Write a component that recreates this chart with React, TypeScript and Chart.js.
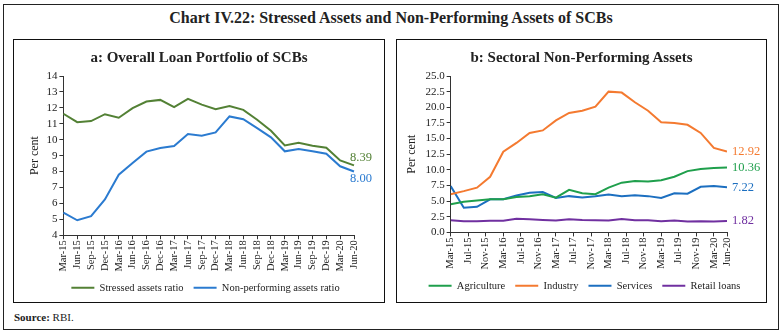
import React, { useEffect, useRef } from 'react';
import { Chart, registerables } from 'chart.js';

Chart.register(...registerables);

// ---------- Data ----------
const quarterLabels = [
  'Mar-15', 'Jun-15', 'Sep-15', 'Dec-15', 'Mar-16', 'Jun-16', 'Sep-16', 'Dec-16',
  'Mar-17', 'Jun-17', 'Sep-17', 'Dec-17', 'Mar-18', 'Jun-18', 'Sep-18', 'Dec-18',
  'Mar-19', 'Jun-19', 'Sep-19', 'Dec-19', 'Mar-20', 'Jun-20',
];

const stressedAssetsRatio = [
  11.63, 11.1, 11.17, 11.6, 11.38, 11.98, 12.4, 12.5, 12.04, 12.56, 12.2, 11.92,
  12.12, 11.87, 11.25, 10.56, 9.64, 9.81, 9.62, 9.5, 8.7, 8.39,
];
const npaRatio = [
  5.42, 4.94, 5.2, 6.25, 7.8, 8.54, 9.25, 9.48, 9.6, 10.35, 10.25, 10.46,
  11.46, 11.29, 10.73, 10.15, 9.27, 9.42, 9.27, 9.12, 8.33, 8.0,
];

const agriculture = [
  4.5, 4.9, 5.1, 5.3, 5.3, 5.65, 5.8, 6.1, 5.55, 6.8, 6.25, 6.1,
  7.15, 7.95, 8.2, 8.15, 8.35, 8.9, 9.8, 10.15, 10.3, 10.36,
];
const industry = [
  6.1, 6.6, 7.15, 8.9, 12.9, 14.3, 15.9, 16.3, 17.9, 19.1, 19.45, 20.1,
  22.5, 22.35, 20.8, 19.45, 17.6, 17.5, 17.2, 15.9, 13.5, 12.92,
];
const services = [
  7.4, 3.95, 4.1, 5.3, 5.3, 5.9, 6.35, 6.45, 5.5, 5.8, 5.6, 5.8,
  6.05, 5.8, 5.95, 5.8, 5.5, 6.25, 6.2, 7.3, 7.4, 7.22,
];
const retailLoans = [
  1.95, 1.8, 1.8, 1.85, 1.85, 2.2, 2.1, 2.0, 1.9, 2.1, 2.0, 1.95,
  1.9, 2.15, 1.95, 1.95, 1.8, 1.9, 1.75, 1.8, 1.75, 1.82,
];

const rightTickLabels = [
  'Mar-15', 'Jul-15', 'Nov-15', 'Mar-16', 'Jul-16', 'Nov-16', 'Mar-17', 'Jul-17',
  'Nov-17', 'Mar-18', 'Jul-18', 'Nov-18', 'Mar-19', 'Jul-19', 'Nov-19', 'Mar-20', 'Jun-20',
];

// ---------- Helpers ----------
const MONTHS = ['Jan', 'Feb', 'Mar', 'Apr', 'May', 'Jun', 'Jul', 'Aug', 'Sep', 'Oct', 'Nov', 'Dec'];
const monthIndex = (label: string) => {
  const m = MONTHS.indexOf(label.slice(0, 3));
  const y = parseInt(label.slice(4), 10);
  return (y - 15) * 12 + (m - 2);
};
const toPoints = (vals: number[]) => vals.map((v, i) => ({ x: monthIndex(quarterLabels[i]), y: v }));

const FONT = '"Liberation Serif", "DejaVu Serif", serif';
const AXIS = '#333';
const TEXT = '#222';

const endLabelPlugin = (dx: number, dys: number[]) => ({
  id: 'endLabels',
  afterDatasetsDraw(chart: any) {
    const ctx = chart.ctx;
    ctx.save();
    ctx.font = `12.5px ${FONT}`;
    ctx.textAlign = 'left';
    ctx.textBaseline = 'middle';
    chart.data.datasets.forEach((ds: any, i: number) => {
      const meta = chart.getDatasetMeta(i);
      const pt = meta.data[meta.data.length - 1];
      const raw = ds.data[ds.data.length - 1];
      const v = typeof raw === 'number' ? raw : raw.y;
      ctx.fillStyle = ds.borderColor;
      ctx.fillText(v.toFixed(2), pt.x + dx, pt.y + (dys[i] || 0));
    });
    ctx.restore();
  },
});

const legendOpts = {
  position: 'bottom' as const,
  labels: {
    usePointStyle: true,
    pointStyle: 'line',
    pointStyleWidth: 23,
    boxHeight: 10,
    padding: 10,
    color: TEXT,
    font: { family: FONT, size: 10.5 },
  },
};

const xGrid = { drawOnChartArea: false, drawTicks: true, tickLength: 4, color: AXIS };

// invisible right-side axis that reserves room for the end-value labels
const spacerAxis = (w: number) => ({
  position: 'right',
  display: true,
  grid: { display: false },
  border: { display: false },
  ticks: { display: false },
  afterFit: (scale: any) => { scale.width = w; },
});

function LeftChart() {
  const ref = useRef<HTMLCanvasElement>(null);
  useEffect(() => {
    const chart = new Chart(ref.current as HTMLCanvasElement, {
      type: 'line',
      data: {
        labels: quarterLabels,
        datasets: [
          { label: 'Stressed assets ratio', data: stressedAssetsRatio, borderColor: '#538135', backgroundColor: '#538135', borderWidth: 2, pointRadius: 0, tension: 0 },
          { label: 'Non-performing assets ratio', data: npaRatio, borderColor: '#2b7bd0', backgroundColor: '#2b7bd0', borderWidth: 2, pointRadius: 0, tension: 0 },
        ],
      },
      options: {
        responsive: false,
        animation: false,
        layout: { padding: { left: 14, right: 0, top: 36, bottom: -2 } },
        plugins: {
          title: { display: false },
          legend: legendOpts,
          tooltip: { enabled: false },
        },
        scales: {
          x: {
            type: 'category',
            grid: xGrid,
            border: { color: AXIS, width: 1 },
            ticks: { color: TEXT, font: { family: FONT, size: 10.5 }, maxRotation: 90, minRotation: 90, autoSkip: false, padding: 1 },
          },
          y: {
            min: 4, max: 14,
            grid: xGrid,
            border: { color: AXIS, width: 1 },
            ticks: { stepSize: 1, autoSkip: false, color: TEXT, font: { family: FONT, size: 11 }, padding: 2 },
            title: { display: true, text: 'Per cent', color: TEXT, font: { family: FONT, size: 12 }, padding: { top: 0, bottom: 2 } },
          },
          pad: spacerAxis(29),
        },
      } as any,
      plugins: [endLabelPlugin(-4, [-8, 7])],
    });
    return () => chart.destroy();
  }, []);
  return <canvas ref={ref} width={369} height={261} style={{ display: 'block' }} />;
}

function RightChart() {
  const ref = useRef<HTMLCanvasElement>(null);
  useEffect(() => {
    const tickValues = rightTickLabels.map(monthIndex);
    const chart = new Chart(ref.current as HTMLCanvasElement, {
      type: 'line',
      data: {
        datasets: [
          { label: 'Agriculture', data: toPoints(agriculture), borderColor: '#1f9f4c', backgroundColor: '#1f9f4c', borderWidth: 2, pointRadius: 0 },
          { label: 'Industry', data: toPoints(industry), borderColor: '#f47a30', backgroundColor: '#f47a30', borderWidth: 2, pointRadius: 0 },
          { label: 'Services', data: toPoints(services), borderColor: '#1c6fc0', backgroundColor: '#1c6fc0', borderWidth: 2, pointRadius: 0 },
          { label: 'Retail loans', data: toPoints(retailLoans), borderColor: '#7030a0', backgroundColor: '#7030a0', borderWidth: 2, pointRadius: 0 },
        ],
      },
      options: {
        responsive: false,
        animation: false,
        layout: { padding: { left: 8, right: 1, top: 36, bottom: 0 } },
        plugins: {
          title: { display: false },
          legend: legendOpts,
          tooltip: { enabled: false },
        },
        scales: {
          x: {
            type: 'linear',
            min: monthIndex(quarterLabels[0]),
            max: monthIndex(quarterLabels[quarterLabels.length - 1]),
            afterBuildTicks: (scale: any) => {
              scale.ticks = tickValues.map((v) => ({ value: v }));
            },
            grid: xGrid,
            border: { color: AXIS, width: 1 },
            ticks: {
              color: TEXT, font: { family: FONT, size: 10.5 }, maxRotation: 90, minRotation: 90, autoSkip: false, padding: 1,
              callback: (value: number) => {
                const i = tickValues.indexOf(value);
                return i >= 0 ? rightTickLabels[i] : '';
              },
            },
          },
          y: {
            min: 0, max: 25,
            grid: xGrid,
            border: { color: AXIS, width: 1 },
            ticks: { stepSize: 2.5, autoSkip: false, color: TEXT, font: { family: FONT, size: 11 }, padding: 2, callback: (v: number) => v.toFixed(1) },
            title: { display: true, text: 'Per cent', color: TEXT, font: { family: FONT, size: 12 }, padding: { top: 0, bottom: 4 } },
          },
          pad: spacerAxis(37),
        },
      } as any,
      plugins: [endLabelPlugin(5, [0, 0, 0, 0])],
    });
    return () => chart.destroy();
  }, []);
  return <canvas ref={ref} width={368} height={261} style={{ display: 'block' }} />;
}

export default function App() {
  const panel = (left: number, width: number): React.CSSProperties => ({
    position: 'absolute', left, top: 39, width, height: 264, border: '1.5px solid #111', boxSizing: 'border-box',
  });
  const panelTitle: React.CSSProperties = {
    position: 'absolute', left: 0, right: 0, top: 8, textAlign: 'center', fontSize: 15, fontWeight: 'bold', lineHeight: '18px',
  };
  return (
    <div style={{ position: 'absolute', left: 0, top: 0, width: 782, height: 335, background: '#fff', fontFamily: FONT, color: TEXT }}>
      <div style={{ position: 'absolute', left: 3, top: 4, width: 776, height: 326, border: '1px solid #222', boxSizing: 'border-box' }} />
      <div style={{ position: 'absolute', left: 0, top: 8, width: 782, textAlign: 'center', fontSize: 16, fontWeight: 'bold', lineHeight: '20px' }}>
        Chart IV.22: Stressed Assets and Non-Performing Assets of SCBs
      </div>
      <div style={panel(13, 372)}>
        <LeftChart />
        <div style={panelTitle}>a: Overall Loan Portfolio of SCBs</div>
      </div>
      <div style={panel(396, 371)}>
        <RightChart />
        <div style={panelTitle}>b: Sectoral Non-Performing Assets</div>
      </div>
      <div style={{ position: 'absolute', left: 14, top: 310, fontSize: 11, lineHeight: '14px' }}>
        <b>Source:</b> RBI.
      </div>
    </div>
  );
}
